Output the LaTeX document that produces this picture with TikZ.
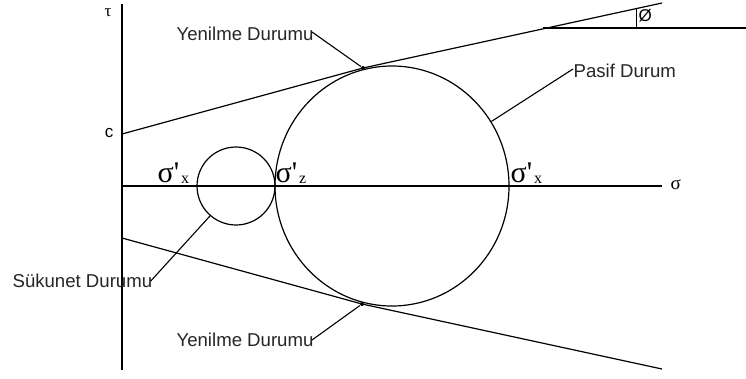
\documentclass[tikz,border=0pt]{standalone}
\usepackage{fontspec}
\setmainfont{Liberation Sans}
\newfontfamily\serifgr{Liberation Serif}
\usetikzlibrary{shapes.geometric}
\begin{document}
\begin{tikzpicture}[x=1pt,y=-1pt, line width=1.2pt,
  lbl/.style={font=\fontsize{18.6}{20}\selectfont, inner sep=0pt, text=black!85, anchor=west},
  leader/.style={line width=1.1pt},
  sig/.style={font=\serifgr\fontsize{30}{30}\selectfont, inner sep=0pt, anchor=base west},
  dot/.style={circle, fill, inner sep=0pt, minimum size=4pt}]
\useasboundingbox[fill=white] (0,0) rectangle (746,378);
% axes
\coordinate (ytop) at (122,4);
\coordinate (ybot) at (122,370);
\coordinate (O) at (122,186);
\coordinate (xend) at (662,186);
\draw (ytop) -- (ybot);
\draw (O) -- (xend);
\node[font=\serifgr\fontsize{17}{17}\selectfont, inner sep=0pt] (tau) at (108,13) {τ};
\node[font=\fontsize{17}{17}\selectfont, inner sep=0pt] (c) at (109,133) {c};
\node[font=\serifgr\fontsize{19}{19}\selectfont, inner sep=0pt, anchor=west] (sig) at (670,185) {σ};
% circles
\node[circle, draw, minimum size=78pt, inner sep=0pt] (small) at (236,186) {};
\node[ellipse, draw, minimum width=234pt, minimum height=240pt, inner sep=0pt] (big) at (392,186) {};
% envelope lines
\coordinate (c0) at (122,134);
\node[dot] (tu) at (363,68) {};
\coordinate (u1) at (662,3);
\coordinate (l0) at (122,238);
\node[dot] (tl) at (362,304) {};
\coordinate (l1) at (662,369);
\draw (c0) -- (tu.center) -- (u1);
\draw (l0) -- (tl.center) -- (l1);
\coordinate (h0) at (543,28);
\coordinate (h1) at (746,28);
\draw (h0) -- (h1);
% angle mark
\coordinate (a0) at (636,9);
\coordinate (a1) at (636,28);
\draw[line width=1pt] (a0) -- (a1);
\node[font=\fontsize{17}{17}\selectfont, inner sep=0pt, anchor=west] (phi) at (638,16) {Ø};
% labels and leaders
\node[lbl] (yt) at (176,34) {Yenilme Durumu};
\draw[leader] ([xshift=-2pt,yshift=2pt]yt.east) -- (tu);
\node[lbl] (pd) at (573,71) {Pasif Durum};
\draw[leader] ([yshift=2pt]pd.west) -- (big.33);
\node[lbl] (sd) at (12,281) {Sükunet Durumu};
\draw[leader] ([xshift=-2pt]sd.east) -- (small.229);
\node[lbl] (yb) at (176,340) {Yenilme Durumu};
\draw[leader] ([xshift=-2pt]yb.east) -- (tl);
% sigma labels
\node[sig] (sx1) at (157,182) {σ\textquotesingle\hspace{2pt}\raisebox{-1pt}{\fontsize{16}{16}\selectfont x}};
\node[sig] (sz) at (275,182) {σ\textquotesingle\hspace{2pt}\raisebox{-1pt}{\fontsize{16}{16}\selectfont z}};
\node[sig] (sx2) at (510,182) {σ\textquotesingle\hspace{2pt}\raisebox{-1pt}{\fontsize{16}{16}\selectfont x}};
\end{tikzpicture}
\end{document}
